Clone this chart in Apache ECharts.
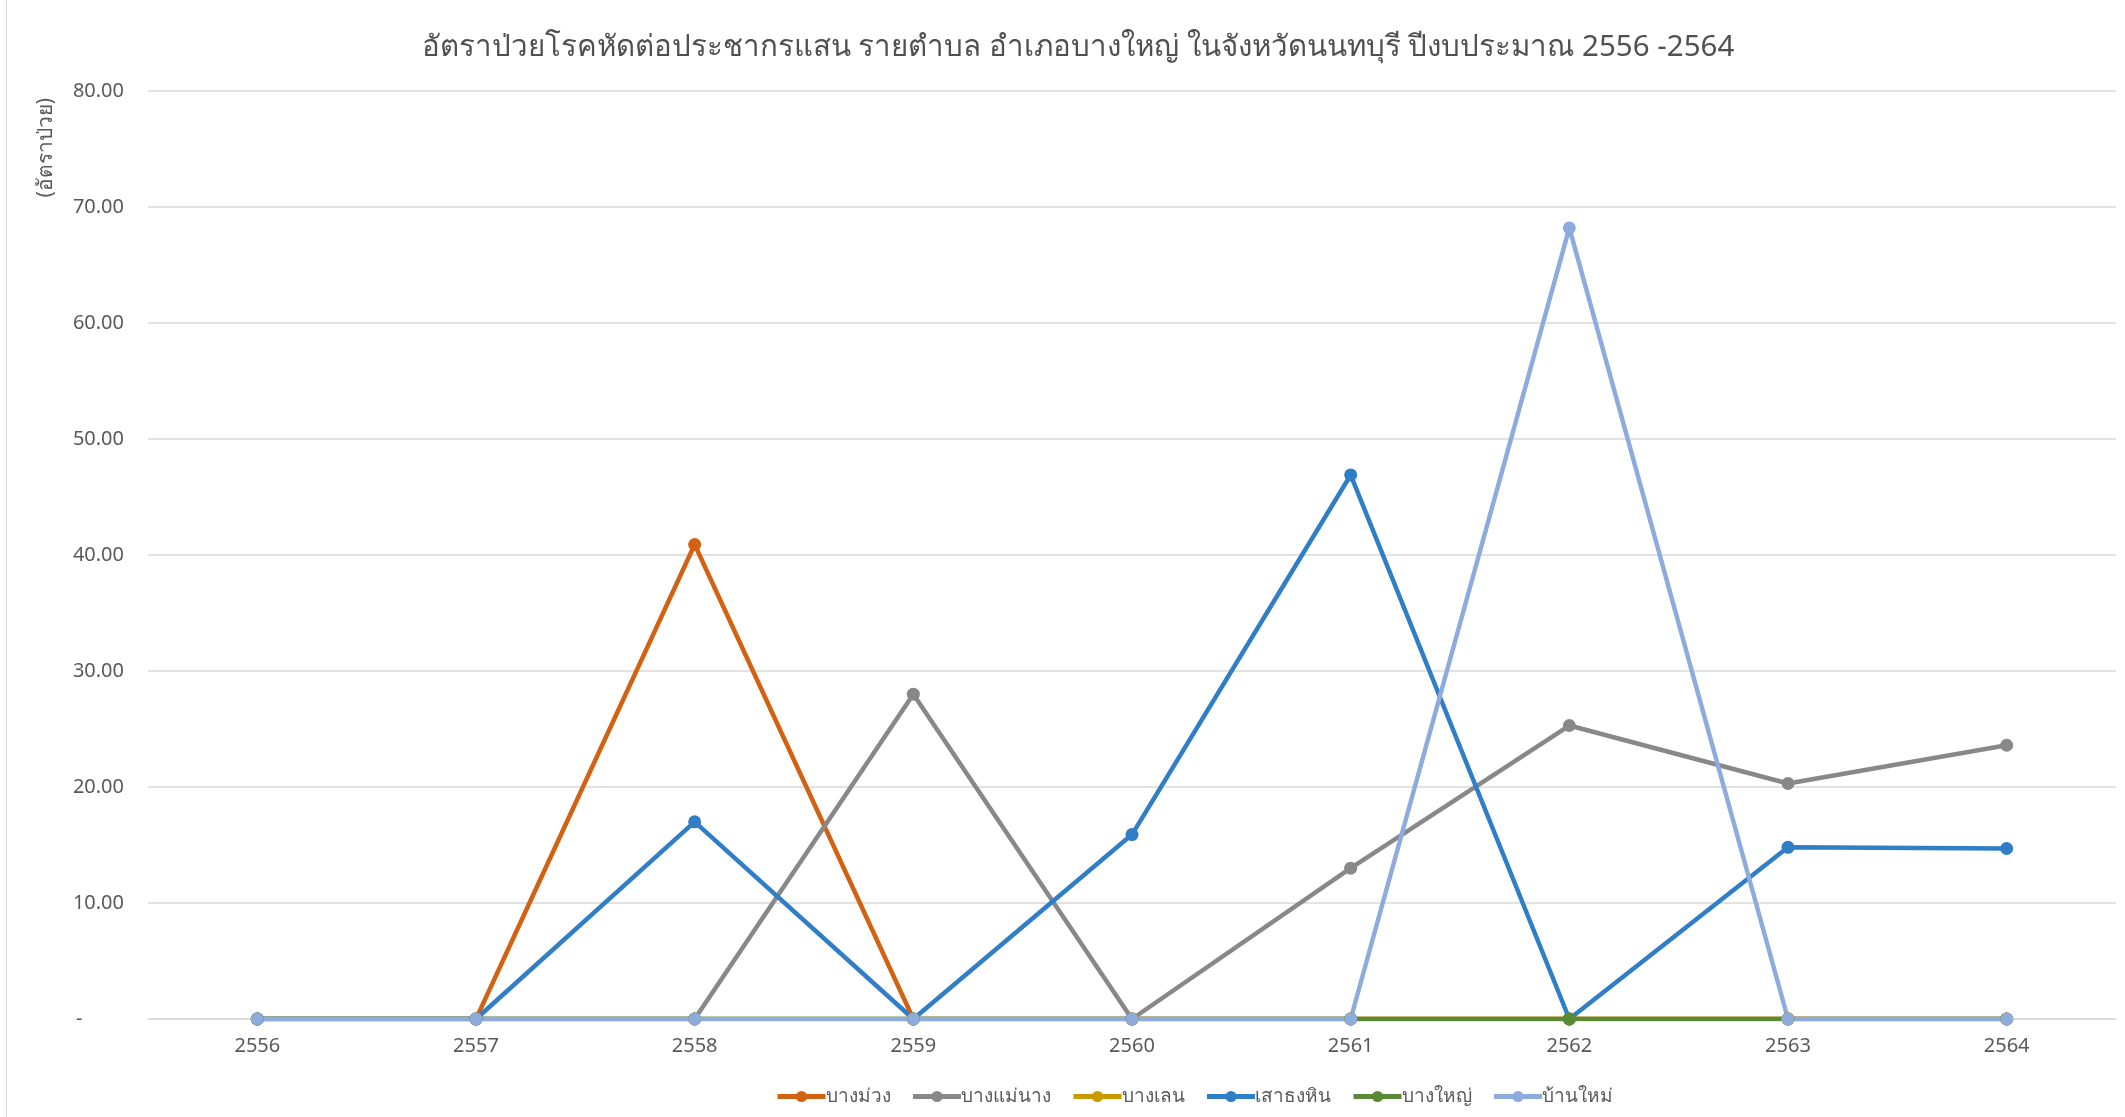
<!DOCTYPE html>
<html>
<head>
<meta charset="utf-8">
<script src="https://cdn.jsdelivr.net/npm/echarts@6/dist/echarts.min.js"></script>
<style>
html,body{margin:0;padding:0;background:#fff;}
#frame{position:absolute;left:6px;top:0;width:2125px;height:1117px;border-left:1px solid #d9d9d9;box-sizing:border-box;}
#chart{position:absolute;left:0;top:0;width:2125px;height:1117px;}
</style>
</head>
<body>
<div id="frame"></div>
<div id="chart"></div>
<script>
const titleText = 'อัตราป่วยโรคหัดต่อประชากรแสน รายตำบล อำเภอบางใหญ่ ในจังหวัดนนทบุรี ปีงบประมาณ 2556 -2564';
const yAxisTitle = '(อัตราป่วย)';
const years = ['2556','2557','2558','2559','2560','2561','2562','2563','2564'];
const bangMuang   = [0, 0, 40.9, 0, 0, 0, 0, 0, 0];
const bangMaeNang = [0, 0, 0, 28.0, 0, 13.0, 25.3, 20.3, 23.6];
const bangLen     = [0, 0, 0, 0, 0, 0, 0, 0, 0];
const saoThongHin = [0, 0, 17.0, 0, 15.9, 46.9, 0, 14.8, 14.7];
const bangYai     = [0, 0, 0, 0, 0, 0, 0, 0, 0];
const banMai      = [0, 0, 0, 0, 0, 0, 68.2, 0, 0];
const seriesNames = ['บางม่วง','บางแม่นาง','บางเลน','เสาธงหิน','บางใหญ่','บ้านใหม่'];
const seriesData = [bangMuang, bangMaeNang, bangLen, saoThongHin, bangYai, banMai];
const colors = ['#D46111','#888888','#C99A00','#2F7EC6','#5A8A35','#8EABDD'];

const FONT = '"Noto Sans", "Open Sans", sans-serif';
const chart = echarts.init(document.getElementById('chart'), null, {renderer:'canvas'});
chart.setOption({
  animation: false,
  color: colors,
  title: {
    text: titleText,
    left: 1073, top: 28, textAlign: 'center',
    textStyle: {fontFamily: FONT, fontSize: 29.5, fontWeight: 'normal', color: '#505050'}
  },
  graphic: [{
    type: 'text', left: 36, top: 98, rotation: Math.PI/2,
    style: {text: yAxisTitle, fontFamily: FONT, fontSize: 21, fill: '#595959'}
  }],
  grid: {left: 148, right: 9, top: 91, bottom: 98, containLabel: false},
  legend: {
    bottom: 6, left: 770, itemGap: 20, itemWidth: 48, itemHeight: 14,
    lineStyle: {width: 5},
    textStyle: {fontFamily: FONT, fontSize: 19, color: '#595959', padding: [0,0,0,-5]},
    data: seriesNames
  },
  xAxis: {
    type: 'category', data: years, boundaryGap: true,
    axisLine: {show: true, lineStyle: {color: '#d9d9d9', width: 1.5}},
    axisTick: {show: false},
    axisLabel: {fontFamily: FONT, fontSize: 20, color: '#595959', margin: 17}
  },
  yAxis: {
    type: 'value', min: 0, max: 80, interval: 10,
    axisLine: {show: false}, axisTick: {show: false},
    splitLine: {lineStyle: {color: '#d9d9d9', width: 1.5}},
    axisLabel: {
      fontFamily: FONT, fontSize: 20, color: '#595959', margin: 24,
      formatter: v => v === 0 ? '-        ' : v.toFixed(2)
    }
  },
  series: seriesNames.map((n, i) => ({
    name: n, type: 'line', data: seriesData[i],
    symbol: 'circle', symbolSize: 13,
    lineStyle: {width: 4.5, color: colors[i]},
    itemStyle: {color: colors[i]}
  }))
});
</script>
</body>
</html>
